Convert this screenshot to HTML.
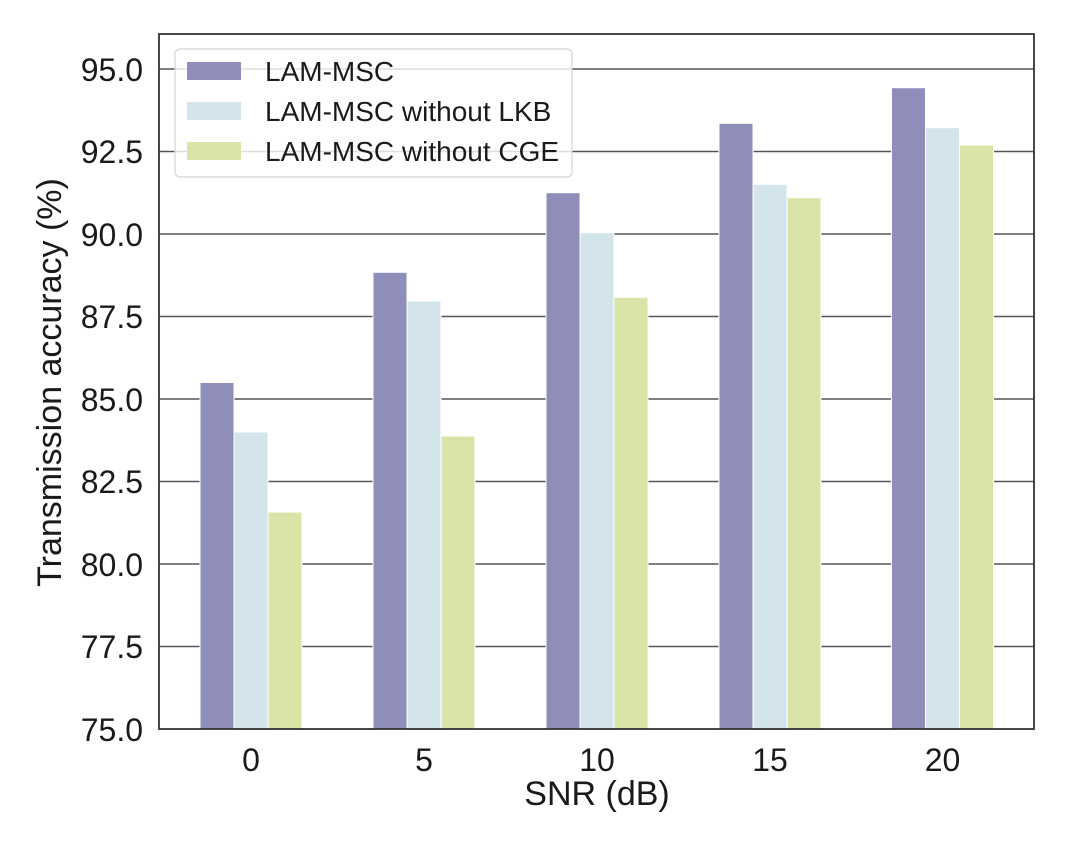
<!DOCTYPE html>
<html>
<head>
<meta charset="utf-8">
<style>
  html, body { margin: 0; padding: 0; background: #ffffff; }
  svg { display: block; }
  text { font-family: "Liberation Sans", Arial, sans-serif; fill: #1a1a1a; }
</style>
</head>
<body>
<svg width="1080" height="850" viewBox="0 0 1080 850" xmlns="http://www.w3.org/2000/svg">
  <rect x="0" y="0" width="1080" height="850" fill="#ffffff"/>

  <!-- grid lines -->
  <g stroke="#555555" stroke-width="1.6">
    <line x1="159" y1="646.5" x2="1034" y2="646.5"/>
    <line x1="159" y1="564" x2="1034" y2="564"/>
    <line x1="159" y1="481.5" x2="1034" y2="481.5"/>
    <line x1="159" y1="399" x2="1034" y2="399"/>
    <line x1="159" y1="316.5" x2="1034" y2="316.5"/>
    <line x1="159" y1="234" x2="1034" y2="234"/>
    <line x1="159" y1="151.5" x2="1034" y2="151.5"/>
    <line x1="159" y1="69" x2="1034" y2="69"/>
  </g>

  <!-- bars -->
  <g stroke="#ffffff" stroke-width="1">
    <!-- SNR 0 -->
    <rect x="200" y="382.5" width="34" height="346.5" fill="#8f8eba"/>
    <rect x="234" y="432" width="34" height="297" fill="#d3e5ea"/>
    <rect x="268" y="512" width="34" height="217" fill="#d9e4a8"/>
    <!-- SNR 5 -->
    <rect x="373" y="272.3" width="34" height="456.7" fill="#8f8eba"/>
    <rect x="407" y="301" width="34" height="428" fill="#d3e5ea"/>
    <rect x="441" y="436" width="34" height="293" fill="#d9e4a8"/>
    <!-- SNR 10 -->
    <rect x="546" y="192.7" width="34" height="536.3" fill="#8f8eba"/>
    <rect x="580" y="232.7" width="34" height="496.3" fill="#d3e5ea"/>
    <rect x="614" y="297.3" width="34" height="431.7" fill="#d9e4a8"/>
    <!-- SNR 15 -->
    <rect x="719" y="123.3" width="34" height="605.7" fill="#8f8eba"/>
    <rect x="753" y="184.3" width="34" height="544.7" fill="#d3e5ea"/>
    <rect x="787" y="197.7" width="34" height="531.3" fill="#d9e4a8"/>
    <!-- SNR 20 -->
    <rect x="891.5" y="87.7" width="34" height="641.3" fill="#8f8eba"/>
    <rect x="925.5" y="127.7" width="34" height="601.3" fill="#d3e5ea"/>
    <rect x="959.5" y="145" width="34" height="584" fill="#d9e4a8"/>
  </g>

  <!-- axes frame -->
  <rect x="159" y="34" width="875" height="695" fill="none" stroke="#333333" stroke-width="1.8"/>

  <!-- y tick labels -->
  <g font-size="32" text-anchor="end">
    <text x="143" y="741">75.0</text>
    <text x="143" y="658">77.5</text>
    <text x="143" y="576">80.0</text>
    <text x="143" y="493">82.5</text>
    <text x="143" y="411">85.0</text>
    <text x="143" y="328">87.5</text>
    <text x="143" y="246">90.0</text>
    <text x="143" y="163">92.5</text>
    <text x="143" y="81">95.0</text>
  </g>

  <!-- x tick labels -->
  <g font-size="32" text-anchor="middle">
    <text x="251" y="771">0</text>
    <text x="424" y="771">5</text>
    <text x="597" y="771">10</text>
    <text x="770" y="771">15</text>
    <text x="942.5" y="771">20</text>
  </g>

  <!-- axis labels -->
  <text x="597" y="805" font-size="34" text-anchor="middle">SNR (dB)</text>
  <text x="0" y="0" font-size="34" text-anchor="middle" transform="translate(61,382.5) rotate(-90)">Transmission accuracy (%)</text>

  <!-- legend -->
  <rect x="175" y="49" width="397" height="128" rx="5" ry="5" fill="#ffffff" fill-opacity="0.8" stroke="#d4d4d4" stroke-width="1.2"/>
  <rect x="187" y="62" width="54" height="18" fill="#8f8eba"/>
  <rect x="187" y="102" width="54" height="18" fill="#d3e5ea"/>
  <rect x="187" y="142" width="54" height="18" fill="#d9e4a8"/>
  <g font-size="28">
    <text x="265" y="81">LAM-MSC</text>
    <text x="265" y="121">LAM-MSC without LKB</text>
    <text x="265" y="161">LAM-MSC without CGE</text>
  </g>
</svg>
</body>
</html>
